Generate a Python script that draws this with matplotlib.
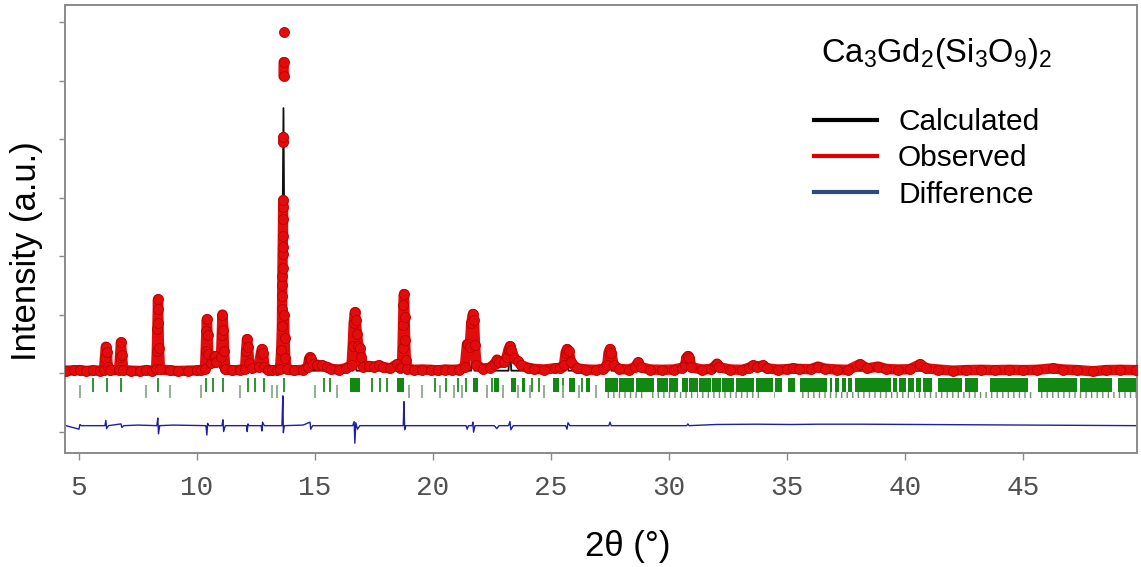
import numpy as np
import matplotlib
matplotlib.use("Agg")
import matplotlib.pyplot as plt
from matplotlib.lines import Line2D

plt.rcParams['font.family'] = ['Liberation Sans', 'DejaVu Sans']
plt.rcParams['mathtext.fontset'] = 'custom'
plt.rcParams['mathtext.rm'] = 'Liberation Sans'
plt.rcParams['mathtext.it'] = 'Liberation Sans'

#### data ####
# observed pattern (2theta, counts)
obs_x = [4.45, 4.8, 5.04, 5.3, 5.58, 5.9,
         6.06, 6.10, 6.14, 6.18, 6.22, 6.30,
         6.70, 6.74, 6.78, 6.82, 6.88,
         7.2, 7.6, 7.85, 8.1,
         8.27, 8.30, 8.32, 8.34, 8.35, 8.37, 8.39, 8.43,
         8.84, 9.2, 9.6, 10.0, 10.19,
         10.34, 10.37, 10.40, 10.42, 10.45, 10.48, 10.6, 10.72, 10.76, 10.82,
         11.02, 11.05, 11.08, 11.12, 11.15, 11.20, 11.5, 11.82,
         12.04, 12.08, 12.12, 12.16, 12.22, 12.35,
         12.62, 12.70, 12.75, 12.80, 12.86, 13.0, 13.2, 13.38,
         13.52, 13.57, 13.60, 13.605, 13.61, 13.615, 13.62, 13.625, 13.63, 13.635,
         13.64, 13.645, 13.65, 13.655, 13.66, 13.665, 13.67, 13.675, 13.68,
         13.69, 13.71, 13.74, 13.80,
         14.1, 14.5, 14.70, 14.75, 14.79, 14.84, 14.92, 15.1, 15.3, 15.5, 15.7, 16.0, 16.3,
         16.55, 16.60, 16.64, 16.69, 16.73, 16.78, 16.84, 16.90, 16.95, 17.05,
         17.3, 17.5, 17.7, 17.9, 18.2, 18.47, 18.6,
         18.68, 18.71, 18.73, 18.75, 18.77, 18.80, 18.82, 18.85, 18.92,
         19.2, 19.53, 19.9, 20.2, 20.51, 20.8, 21.1,
         21.35, 21.44, 21.50, 21.56, 21.62, 21.69, 21.74, 21.78, 21.84, 22.1, 22.4,
         22.62, 22.71, 22.80,
         23.00, 23.12, 23.20, 23.26, 23.32, 23.45, 23.6, 23.75, 24.03, 24.3, 24.7, 25.17, 25.4,
         25.55, 25.62, 25.68, 25.75, 25.85, 26.1, 26.5, 26.9, 27.2,
         27.38, 27.44, 27.50, 27.56, 27.65, 27.9, 28.3,
         28.55, 28.69, 28.82, 29.2, 29.7, 30.2, 30.55,
         30.68, 30.74, 30.80, 30.86, 30.95, 31.4, 31.8,
         31.95, 32.03, 32.12, 32.6, 33.1, 33.4, 33.56, 33.75, 33.98, 34.15, 34.6,
         35.0, 35.25, 35.5, 36.0, 36.31, 36.6, 37.1, 37.6, 38.09, 38.4, 38.86, 39.2,
         39.7, 40.2, 40.64, 40.9, 41.4, 42.03, 42.6, 43.2, 43.8, 44.4, 45.0, 45.6,
         46.27, 46.7, 47.3, 47.97, 48.5, 49.1, 49.8]
obs_y = [40, 45, 50, 35, 45, 40,
         55, 260, 450, 360, 110, 45,
         55, 280, 525, 300, 55,
         40, 35, 50, 40,
         65, 380, 760, 1090, 1260, 860, 430, 65,
         45, 35, 40, 45, 55,
         65, 380, 720, 920, 650, 330, 170, 270, 290, 180,
         280, 650, 1000, 740, 370, 65, 45, 55,
         75, 370, 580, 450, 170, 85,
         110, 320, 410, 340, 110, 55, 45, 55,
         75, 400, 800, 1100, 1316, 1500, 1660, 1795, 2030, 2150,
         2340, 2630, 2840, 2957, 3950, 4034, 5077, 5316, 5830,
         1000, 600, 250, 65,
         45, 55, 110, 240, 270, 240, 160, 140, 130, 105, 70, 60, 80,
         140, 470, 850, 1040, 900, 660, 470, 430, 280, 110,
         120, 110, 130, 100, 80, 150, 90,
         110, 430, 820, 1170, 1350, 950, 560, 230, 75,
         55, 60, 55, 45, 60, 55, 60,
         110, 490, 500, 450, 850, 1010, 900, 480, 140, 75, 90,
         160, 230, 180,
         180, 270, 400, 460, 400, 250, 200, 130, 90, 70, 60, 80, 90,
         130, 350, 410, 370, 180, 80, 60, 55, 70,
         130, 350, 410, 350, 130, 70, 60,
         100, 180, 100, 60, 55, 60, 90,
         130, 260, 290, 260, 100, 60, 70,
         120, 160, 100, 60, 55, 90, 130, 110, 130, 80, 60,
         65, 80, 70, 65, 110, 75, 60, 55, 150, 80, 110, 70,
         60, 65, 150, 80, 60, 40, 50, 55, 50, 55, 50, 55,
         80, 60, 50, 30, 50, 55, 50]

# calculated pattern
calc_x = [4.45, 6.08, 6.14, 6.20, 6.72, 6.78, 6.84, 8.30, 8.35, 8.40,
          10.36, 10.42, 10.48, 10.76, 11.04, 11.10, 11.16, 12.08, 12.12, 12.18,
          12.70, 12.75, 12.82, 13.58, 13.665, 13.74, 14.74, 14.79, 14.86,
          16.60, 16.69, 16.76, 18.71, 18.77, 18.83, 21.62, 21.69, 21.76,
          23.20, 23.26, 23.32, 25.62, 25.68, 25.74, 27.44, 27.50, 27.56,
          30.74, 30.80, 30.86, 49.8]
calc_y = [35, 40, 420, 40, 40, 480, 40, 40, 1130, 40,
          40, 990, 40, 260, 40, 950, 40, 40, 560, 40,
          40, 380, 40, 40, 4530, 40, 40, 240, 40,
          40, 1000, 40, 40, 1250, 40, 40, 960, 40,
          40, 420, 40, 40, 380, 40, 40, 380, 40,
          40, 260, 40, 35]

# difference curve (obs - calc)
diff_x = [4.45, 5.0, 5.04, 5.1, 6.1, 6.14, 6.17, 6.25, 6.78, 6.82, 6.9, 7.5,
          8.3, 8.34, 8.37, 8.42, 9.0, 10.38, 10.42, 10.45, 10.5, 11.06, 11.10, 11.13, 11.2,
          12.10, 12.13, 12.16, 12.2, 12.72, 12.75, 12.78, 12.85, 13.60, 13.64, 13.66, 13.70,
          14.5, 14.79, 14.82, 14.9, 16.6, 16.66, 16.69, 16.73, 16.8, 16.9,
          18.74, 18.77, 18.80, 18.85, 21.4, 21.45, 21.5, 21.66, 21.69, 21.72, 21.78,
          22.6, 22.7, 22.8, 23.2, 23.26, 23.3, 23.4, 25.62, 25.68, 25.72, 25.8,
          27.45, 27.5, 27.55, 30.75, 30.8, 30.85, 32.0, 33.7, 35.2, 36.3, 38.1, 40.6, 49.83]
diff_y = [0, -60, 20, 0, 0, 90, -50, 0, 30, -30, 0, 10,
          0, 130, -140, 0, 10, 0, -160, 40, 0, 0, 100, -100, 0,
          0, -100, 30, 0, 0, -90, 60, 0, 0, 510, -120, 0,
          10, 60, -60, 0, 0, 70, -300, 50, -60, 0,
          0, 410, -70, 0, 0, -60, 0, 0, 60, -110, 0,
          0, -50, 0, 0, 70, -70, 0, 0, -60, 50, 0,
          0, 60, 0, 0, 30, 0, 20, 25, 20, 25, 25, 20, 0]
diff_offset = -900

# Bragg reflections: single ticks and merged clusters (start, end)
bragg_upper = [5.58, 6.18, 6.79, 8.35, 10.40, 10.69, 11.11, 12.18, 12.45, 12.82,
               13.67, 15.37, 15.65, 17.43, 17.77, 18.06, 20.07, 20.57, 21.08,
               21.42, 22.5, 24.2, 24.5, 25.5, 26.3]
bragg_upper_bands = [(16.48, 16.91), (18.49, 18.79), (21.7, 21.9), (22.6, 22.8),
                     (23.3, 23.5), (23.77, 23.9), (25.1, 25.35), (25.75, 26.0),
                     (26.5, 26.66), (27.29, 27.84), (27.9, 28.5), (28.6, 29.36),
                     (29.48, 29.95), (30.02, 30.38), (30.55, 30.8), (30.86, 31.22),
                     (31.28, 31.78), (31.84, 32.2), (32.26, 32.76), (32.86, 33.6),
                     (33.7, 34.4), (34.49, 34.79), (35.04, 35.34), (35.55, 36.68),
                     (36.82, 36.9), (37.03, 37.2), (37.32, 37.49), (37.59, 37.74),
                     (37.88, 39.4), (39.48, 39.68), (39.76, 40.04), (40.12, 40.4),
                     (40.46, 40.68), (40.76, 41.14), (41.4, 42.42), (42.54, 43.09),
                     (43.6, 45.2), (45.64, 47.29), (47.42, 48.77), (49.03, 49.83)]
bragg_lower = [5.04, 7.85, 8.84, 10.19, 11.82, 13.17, 13.38, 15.0, 15.94, 19.0,
               19.55, 20.3, 20.9, 21.25, 22.3, 22.95, 23.6, 24.1, 24.7, 25.5,
               26.2, 26.9]
bragg_lower_bands = [(27.3, 29.0), (29.2, 31.0), (31.2, 34.0), (34.3, 34.5),
                     (35.5, 40.2), (40.4, 45.5), (45.7, 49.83)]

formula = r'Ca$_3$Gd$_2$(Si$_3$O$_9$)$_2$'
legend_labels = ['Calculated', 'Observed', 'Difference']
#####################################

red = '#e30c0c'
fig = plt.figure(figsize=(11.41, 5.67), dpi=100)
ax = fig.add_axes([0.057, 0.201, 0.9395, 0.790])

# observed: thick line plus dots, broken where points jump far apart
ox = np.array(obs_x)
oy = np.array(obs_y, dtype=float)
brk = np.where(np.abs(np.diff(oy)) > 455)[0] + 1
lx = np.insert(ox, brk, np.nan)
ly = np.insert(oy, brk, np.nan)
ax.plot(calc_x, calc_y, color='#111111', lw=1.3, zorder=2)
ax.plot(lx, ly, color=red, lw=7.5, solid_capstyle='round',
        solid_joinstyle='round', zorder=3)
ax.plot(ox, oy, 'o', color=red, ms=7.2, mec='#b80000', mew=0.6, zorder=4)

# bragg ticks
ax.vlines(bragg_upper, -325, -85, color='#1f8a1f', lw=1.3)
ax.broken_barh([(a, b - a) for a, b in bragg_upper_bands], (-325, 240),
               color='#118811', lw=0)
ax.vlines(bragg_lower, -430, -205, color='#8aaa8a', lw=1.3)
ax.broken_barh([(a, b - a) for a, b in bragg_lower_bands], (-430, 105),
               facecolor='none', edgecolor='#6f8f6f', hatch='|||', lw=0)

# difference
ax.plot(diff_x, np.array(diff_y) + diff_offset, color='#1e1ea8', lw=1.0)

ax.set_xlim(4.41, 49.83)
ax.set_ylim(-1368, 6291)
ax.set_xticks([5, 10, 15, 20, 25, 30, 35, 40, 45])
ax.set_yticks(np.arange(-1000, 7000, 1000))
ax.set_yticklabels([])
for s in ax.spines.values():
    s.set_color('#8a8a8a')
    s.set_linewidth(1.4)
ax.tick_params(axis='x', direction='out', length=5, width=1, color='#8a8a8a',
               labelsize=20, labelcolor='#505050', pad=11)
ax.tick_params(axis='y', direction='out', length=4, width=1, color='#8a8a8a')
for lab in ax.get_xticklabels():
    lab.set_fontfamily('Liberation Mono')

ax.set_xlabel('2θ (°)', fontsize=25)
ax.xaxis.set_label_coords(0.525, -0.172)
ax.set_ylabel('Intensity (a.u.)', fontsize=25)
ax.yaxis.set_label_coords(-0.021, 0.451)

ax.text(0.813, 0.893, formula, transform=ax.transAxes, fontsize=23.5,
        ha='center', va='center')
handles = [Line2D([], [], color='black', lw=3),
           Line2D([], [], color='#e00000', lw=3),
           Line2D([], [], color='#2c4a7e', lw=3)]
ax.legend(handles, legend_labels, loc='upper left', bbox_to_anchor=(0.688, 0.797),
          frameon=False, fontsize=21.5, handlelength=2.1, labelspacing=0.28,
          handletextpad=0.7, borderaxespad=0)

fig.savefig('out.png', dpi=100)
